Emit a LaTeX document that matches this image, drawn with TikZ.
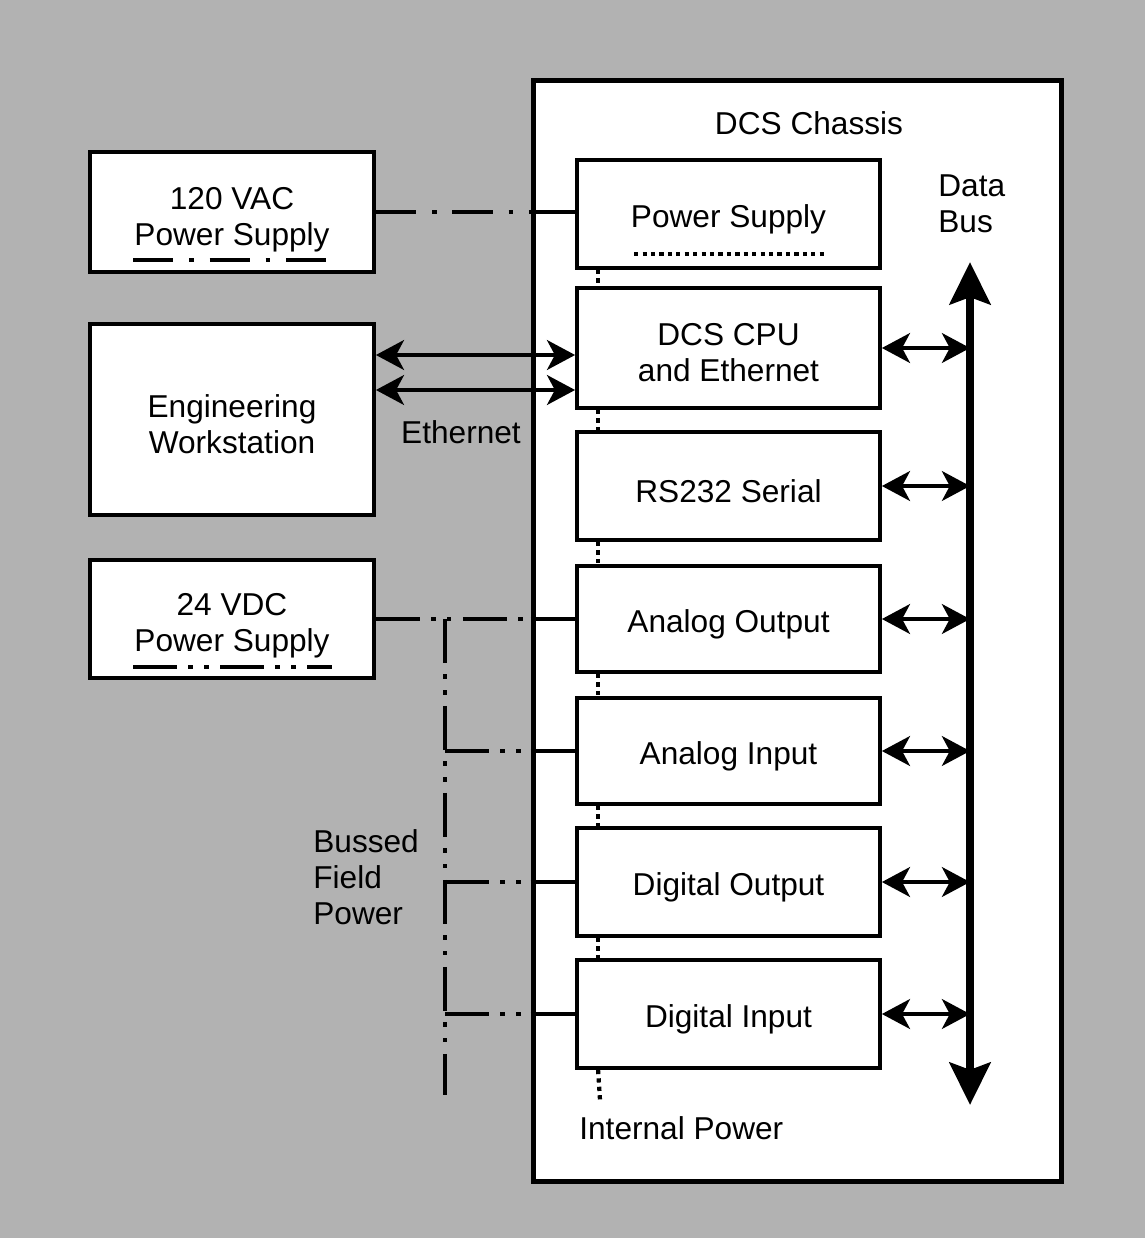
\documentclass[tikz,border=0pt]{standalone}
\usepackage{fontspec}
\setmainfont{Liberation Sans}
\usetikzlibrary{arrows.meta}
\newcommand{\lift}[1]{\rule{0pt}{#1}}

\begin{document}
\begin{tikzpicture}[x=0.02cm, y=-0.02cm,
    every node/.style={font=\fontsize{18}{20.5}\selectfont, align=center, inner sep=0pt},
    box/.style={draw, fill=white, line width=2.2pt, minimum width=5.68cm},
    module/.style={draw, fill=white, line width=2.2pt, minimum width=6.06cm, minimum height=2.16cm, execute at begin node={\lift{19pt}}},
    note/.style={anchor=west, align=left},
    acline/.style={line width=2.2pt, dash pattern=on 23pt off 9pt on 2.5pt off 9pt},
    dcline/.style={line width=2.2pt, dash pattern=on 25pt off 6.5pt on 2.5pt off 6.5pt on 2.5pt off 6.5pt},
    ipower/.style={line width=2.4pt, dash pattern=on 2.4pt off 2.4pt},
    wire/.style={line width=2.2pt},
    link/.style={line width=2pt, {Stealth[length=16pt,width=17pt,inset=4.5pt]}-{Stealth[length=16pt,width=17pt,inset=4.5pt]}},
    databus/.style={line width=5pt, {Stealth[length=24pt,width=23pt,inset=4pt]}-{Stealth[length=24pt,width=23pt,inset=4pt]}},
]

\useasboundingbox[fill=black!30] (0,0) rectangle (1145,1238);

% chassis and its modules
\node[draw, fill=white, line width=2.8pt, minimum width=10.58cm, minimum height=22.04cm] (chassis) at (797.5,631) {};
\node (title) at (809,123) {DCS Chassis};

\node[module] (ps) at (728.5,214) {Power Supply};
\node[module, minimum height=2.4cm] (cpu) at (728.5,348) {\lift{18pt}DCS CPU\\and Ethernet};
\node[module] (rs) at (728.5,486) {RS232 Serial};
\node[module, minimum height=2.12cm] (ao) at (728.5,619) {Analog Output};
\node[module, minimum height=2.12cm] (ai) at (728.5,751) {Analog Input};
\node[module] (do) at (728.5,882) {Digital Output};
\node[module] (di) at (728.5,1014) {Digital Input};

% outside equipment
\node[box, minimum height=2.4cm] (ac) at (232,212) {\lift{21pt}120 VAC\\Power Supply};
\node[box, minimum height=3.82cm] (ew) at (232,419.5) {\lift{18pt}Engineering\\Workstation};
\node[box, minimum height=2.36cm] (dc) at (232,619) {\lift{20pt}24 VDC\\Power Supply};

\coordinate (bus top) at (970,262);
\coordinate (bus end) at (970,1105);
\coordinate (field end) at (445,1095);
\coordinate (ip end) at (600,1100);
\coordinate (eth1) at ([yshift=-0.14cm]cpu.west);
\coordinate (eth2) at ([yshift=-0.84cm]cpu.west);

% line keys
\draw[ipower] ([xshift=1.18cm,yshift=0.32cm]ps.south west) -- ([xshift=-1.1cm,yshift=0.32cm]ps.south east);
\draw[acline] ([xshift=0.9cm,yshift=0.28cm]ac.south west) -- ([xshift=-0.88cm,yshift=0.28cm]ac.south east);
\draw[dcline] ([xshift=0.9cm,yshift=0.26cm]dc.south west) -- ([xshift=-0.88cm,yshift=0.26cm]dc.south east);

% power
\draw[acline] (ac.east) -- (ac.east -| chassis.west);
\draw[wire] (ac.east -| chassis.west) -- (ac.east -| ps.west);
\draw[dcline] (dc.east) -- (dc.east -| chassis.west);
\draw[wire] (dc.east -| chassis.west) -- (dc.east -| ao.west);
\draw[dcline] (dc.east -| field end) -- (field end);
\foreach \m in {ai, do, di} {
    \draw[dcline] (\m.west -| field end) -- (\m.west -| chassis.west);
    \draw[wire] (\m.west -| chassis.west) -- (\m.west);
}
\foreach \a/\b in {ps/cpu, cpu/rs, rs/ao, ao/ai, ai/do, do/di}
    \draw[ipower] ([xshift=0.46cm]\a.south west) -- ([xshift=0.46cm]\b.north west);
\draw[ipower] ([xshift=0.46cm]di.south west) -- (ip end);

% data
\draw[link] (eth1 -| ew.east) -- (eth1);
\draw[link] (eth2 -| ew.east) -- (eth2);
\foreach \m in {cpu, rs, ao, ai, do, di}
    \draw[link] (\m.east) -- (\m.east -| bus top);
\draw[databus] (bus top) -- (bus end);

\node[note] (bus label) at (938,204) {Data\\Bus};
\node (eth label) at (461,432) {Ethernet};
\node[note] (field label) at (313,877) {Bussed\\Field\\Power};
\node[note] (ip label) at (579,1128) {Internal Power};

\end{tikzpicture}
\end{document}
